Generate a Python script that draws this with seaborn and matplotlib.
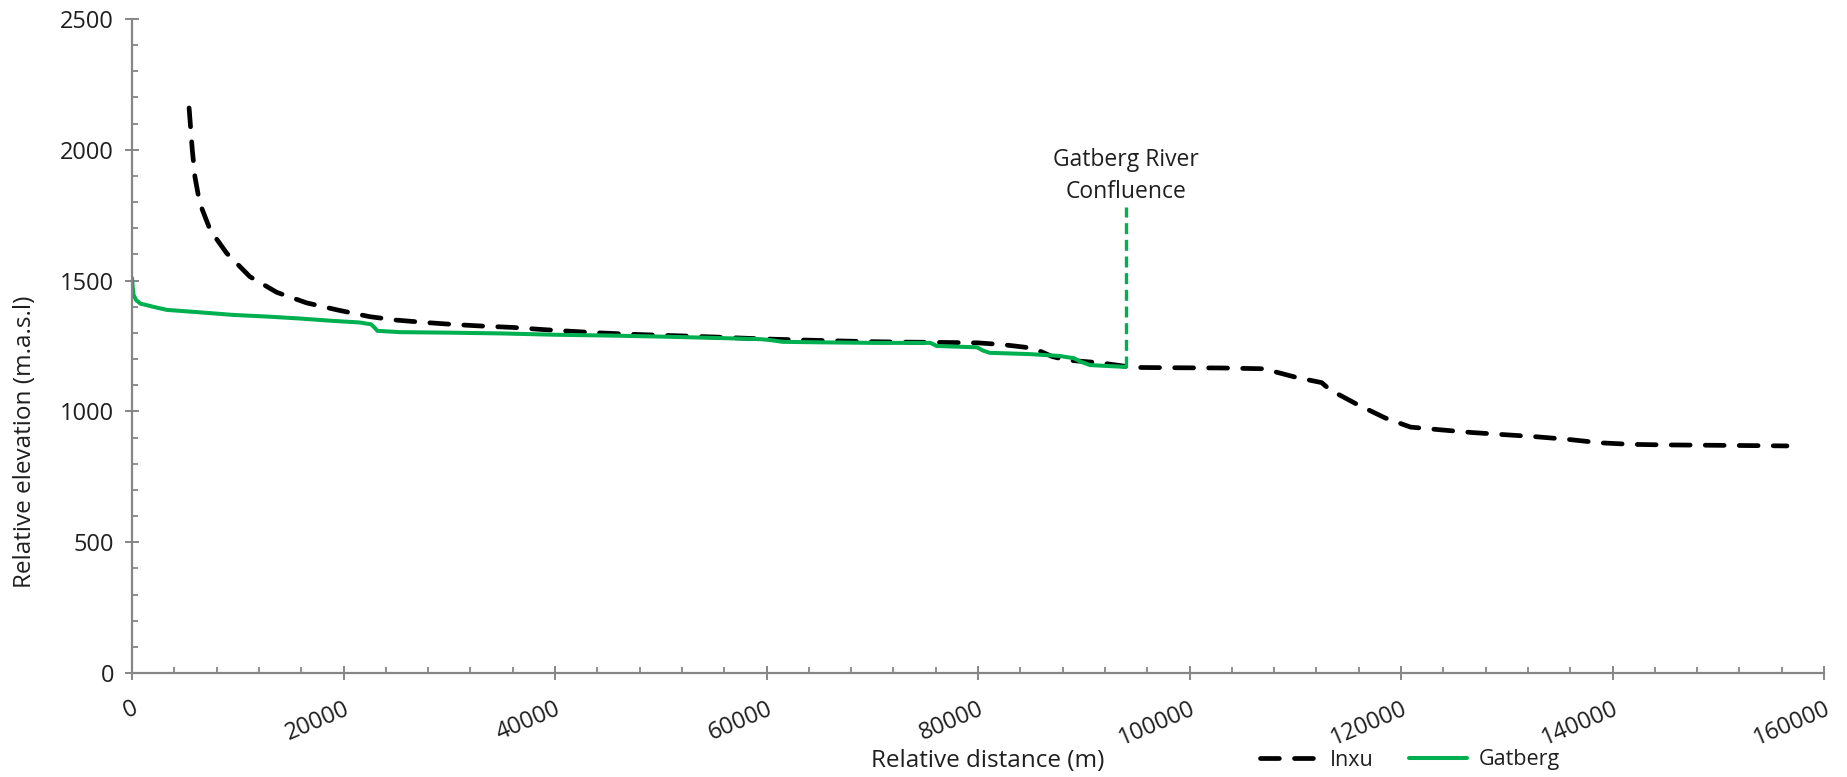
import numpy as np
import pandas as pd
import matplotlib
matplotlib.use("Agg")
import matplotlib.pyplot as plt
from matplotlib.ticker import MultipleLocator
import seaborn as sns

# Longitudinal profile of the Inxu river (m from source, m a.s.l.)
inxu_distance = [5400, 5550, 5700, 5950, 6400, 7400, 8950, 11150, 13700, 16500,
                 19400, 22500, 25000, 27700, 30500, 33200, 36000, 38800, 41600, 44300,
                 47100, 50000, 52500, 55300, 57800, 60600, 63300, 66300, 69300, 72500,
                 76000, 80000, 82400, 84500, 85600, 87000, 88400, 91500, 94000, 95000,
                 98000, 103000, 107000, 110100, 112500, 113300, 115800, 118500, 120900, 123900,
                 126800, 129800, 132800, 135800, 138800, 141800, 144800, 148000, 151000, 154000,
                 156500]
inxu_elevation = [2160, 2080, 2000, 1897, 1797, 1693, 1605, 1515, 1455, 1415,
                  1388, 1362, 1349, 1340, 1332, 1326, 1321, 1313, 1306, 1300,
                  1295, 1291, 1288, 1284, 1280, 1276, 1273, 1270, 1267, 1265,
                  1264, 1262, 1255, 1245, 1235, 1210, 1196, 1186, 1172, 1168,
                  1167, 1166, 1163, 1130, 1110, 1082, 1028, 975, 940, 929,
                  919, 911, 903, 893, 880, 874, 872, 871, 870, 869,
                  868]

# Longitudinal profile of the Gatberg tributary down to the confluence
gatberg_distance = [0, 80, 150, 400, 800, 2000, 3300, 6000, 9500, 13000,
                    15900, 19000, 21500, 22600, 22900, 23200, 25300, 30000, 35000, 40000,
                    45000, 50000, 55000, 59500, 60500, 61500, 65000, 70000, 75500, 76100,
                    79900, 80500, 81100, 84900, 87700, 89100, 89700, 90600, 94000]
gatberg_elevation = [1510, 1470, 1445, 1425, 1412, 1400, 1388, 1380, 1369, 1362,
                     1355, 1346, 1340, 1333, 1322, 1308, 1303, 1301, 1298, 1293,
                     1290, 1286, 1281, 1276, 1272, 1266, 1264, 1262, 1262, 1250,
                     1245, 1232, 1224, 1219, 1212, 1203, 1190, 1177, 1170]

# Confluence marker
confluence_x = 94000
confluence_bottom = 1170
confluence_top = 1782
confluence_label = "Gatberg River\nConfluence"

x_ticks = list(range(0, 160001, 20000))
y_ticks = list(range(0, 2501, 500))

GREEN = "#00B050"
AXIS_GREY = "#868686"
TEXT = "#1f1f1f"

sns.set_theme(style="white")
plt.rcParams["font.family"] = ["Open Sans", "DejaVu Sans"]

inxu = pd.DataFrame({"distance": inxu_distance, "elevation": inxu_elevation})
gatberg = pd.DataFrame({"distance": gatberg_distance, "elevation": gatberg_elevation})

fig = plt.figure(figsize=(18.47, 7.77), dpi=100)
ax = fig.add_axes([132 / 1847, 104 / 777, (1824 - 132) / 1847, (673 - 19) / 777])

sns.lineplot(data=inxu, x="distance", y="elevation", ax=ax, color="black",
             lw=3.4, label="Inxu", linestyle=(0, (4.0, 3.2)),
             dash_capstyle="round", sort=False)
sns.lineplot(data=gatberg, x="distance", y="elevation", ax=ax, color=GREEN,
             lw=2.9, label="Gatberg", sort=False)

ax.vlines(confluence_x, confluence_bottom, confluence_top, colors=GREEN,
          lw=2.4, linestyles=(0, (3.3, 1.7)))
ax.text(confluence_x, 1900, confluence_label, ha="center", va="center",
        fontsize=16.5, color=TEXT, linespacing=1.4)

ax.set_xlim(0, 160000)
ax.set_ylim(0, 2500)
ax.set_xticks(x_ticks)
ax.set_yticks(y_ticks)
ax.xaxis.set_minor_locator(MultipleLocator(4000))
ax.yaxis.set_minor_locator(MultipleLocator(100))

for side in ("top", "right"):
    ax.spines[side].set_visible(False)
for side in ("left", "bottom"):
    ax.spines[side].set_color(AXIS_GREY)
    ax.spines[side].set_linewidth(1.6)

ax.tick_params(which="both", bottom=True, left=True, top=False, right=False)
ax.tick_params(which="major", direction="inout", length=10, width=1.4,
               color=AXIS_GREY, labelsize=17, labelcolor=TEXT)
ax.tick_params(which="minor", direction="in", length=4.5, width=1.3,
               color=AXIS_GREY)
ax.tick_params(axis="y", which="major", pad=8)
ax.tick_params(axis="x", which="major", pad=12)

ax.set_xticklabels([str(v) for v in x_ticks], rotation=23, ha="right",
                   va="top", rotation_mode="anchor")
ax.set_yticklabels([str(v) for v in y_ticks])

ax.set_xlabel("Relative distance (m)", fontsize=17.5, color=TEXT, va="center")
ax.xaxis.set_label_coords((988 - 132) / 1692, -(761 - 673) / 654)
ax.set_ylabel("Relative elevation (m.a.s.l)", fontsize=17.5, color=TEXT, va="center")
ax.yaxis.set_label_coords((25 - 132) / 1692, (673 - 442) / 654)

ax.legend_.remove()
handles, labels = ax.get_legend_handles_labels()
fig.legend(handles, labels, loc="center left", bbox_to_anchor=(1241 / 1847, 17 / 777),
           ncol=2, frameon=False, fontsize=15.5, handlelength=2.7,
           handletextpad=0.55, columnspacing=1.6, labelcolor=TEXT)

fig.savefig("out.png", dpi=100, facecolor="white")
